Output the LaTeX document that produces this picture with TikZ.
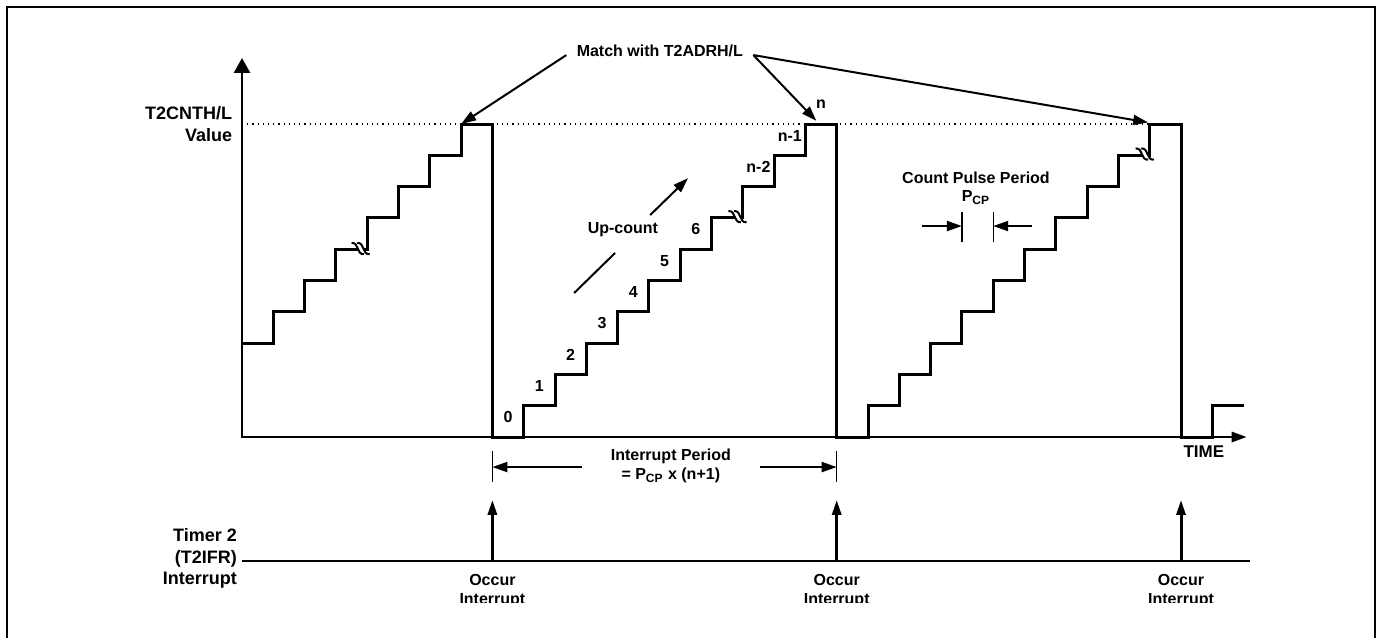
\documentclass[tikz,border=0pt]{standalone}
\usepackage{fontspec}
\setmainfont{Liberation Sans}
\usetikzlibrary{arrows.meta}
\tikzset{
  lbl/.style={font=\bfseries\fontsize{8}{9.3}\selectfont, inner sep=1pt, align=center},
  side/.style={font=\bfseries\fontsize{9}{10.8}\selectfont, align=right, anchor=east, inner sep=0pt},
  tip/.style={-{Triangle[length=7.5pt,width=5pt]}, line width=1pt},
  irqtip/.style={-{Triangle[length=7.5pt,width=4.5pt]}, line width=1.5pt},
  tick/.style={line width=0.7pt},
  wave/.style={line width=1.5pt, line join=miter},
  brk/.pic={
    \fill[white] (-0.3,0.18) .. controls (-0.05,0.2) and (-0.15,-0.2) .. (0.1,-0.18)
      -- (0.28,-0.18) .. controls (0.03,-0.2) and (0.13,0.2) .. (-0.12,0.18) -- cycle;
    \draw[line width=1pt] (-0.3,0.18) .. controls (-0.05,0.2) and (-0.15,-0.2) .. (0.1,-0.18);
    \draw[line width=1pt] (-0.12,0.18) .. controls (0.13,0.2) and (0.03,-0.2) .. (0.28,-0.18);
  }
}
\begin{document}
\begin{tikzpicture}[x=15.65pt, y=15.65pt]
\useasboundingbox (-7.732,-6.390) rectangle (36.454,13.962);
\draw[line width=1.3pt] (-7.51,-6.6) |- (36.2,13.74) -- (36.2,-6.6);
\coordinate (o) at (0,0);
\coordinate (ytip) at (0,12.11);
\coordinate (xtip) at (32.1,0);
\draw[dotted, line width=0.6pt] (0,10) -- (29,10);
\draw[line width=1.4pt, line join=miter, {Triangle[length=7.5pt,width=8pt]}-{Triangle[length=7.5pt,width=5pt]}] (ytip) -- (o) -- (xtip);
\draw[wave] (0,3) \foreach \k in {1,...,7} { -| (\k,\k+3) } -- (8,10) -- (8,0)
  \foreach \k in {1,...,10} { -| (8+\k,\k) } -- (19,10) -- (19,0)
  \foreach \k in {1,...,10} { -| (19+\k,\k) } -- (30,10) -- (30,0) -| (31,1) -- (32,1);
\pic at (3.8,6.02) {brk};
\pic at (15.84,7.04) {brk};
\pic at (28.85,9.04) {brk};
\node[side] (lblY) at (-0.3,10) {T2CNTH/L\\Value};
\foreach \k/\t in {0/0,1/1,2/2,3/3,4/4,5/5,6/6,8/n-2,9/n-1,10/n}
  \node[lbl] (cnt\k) at (8.5+\k,\k+0.63) {\t};
\node[lbl, inner sep=5pt] (match) at (13.35,12.33) {Match with T2ADRH/L};
\coordinate (hit1) at (7,10);
\coordinate (hit2) at (18.35,10.1);
\coordinate (hit3) at (28.95,10.05);
\draw[tip] ([yshift=-2pt]match.west) -- (hit1);
\draw[tip] ([yshift=-2pt]match.east) -- (hit2);
\draw[tip] ([yshift=-2pt]match.east) -- (hit3);
\node[lbl] (upcnt) at (12.17,6.61) {Up-count};
\coordinate (up0) at (10.61,4.6);
\coordinate (up1) at (11.92,5.88);
\coordinate (up2) at (13.04,7.09);
\coordinate (up3) at (14.25,8.27);
\draw[line width=1pt] (up0) -- (up1);
\draw[tip] (up2) -- (up3);
\node[lbl] (cpp) at (23.45,7.95) {Count Pulse Period\\P\textsubscript{CP}};
\coordinate (cpa) at (23,7.19);
\coordinate (cpb) at (23,6.23);
\coordinate (cpc) at (24,7.19);
\coordinate (cpd) at (24,6.23);
\coordinate (cpl) at (21.73,6.74);
\coordinate (cpm1) at (23,6.74);
\coordinate (cpm2) at (24,6.74);
\coordinate (cpr) at (25.24,6.74);
\draw[tick] (cpa) -- (cpb);
\draw[tick] (cpc) -- (cpd);
\draw[tip] (cpl) -- (cpm1);
\draw[tip] (cpr) -- (cpm2);
\node[lbl] (iper) at (13.7,-0.93) {Interrupt Period\\= P\textsubscript{CP} x (n+1)};
\coordinate (ipa) at (8,-0.45);
\coordinate (ipb) at (8,-1.44);
\coordinate (ipc) at (19,-0.45);
\coordinate (ipd) at (19,-1.44);
\coordinate (ipl) at (10.86,-0.96);
\coordinate (ipm1) at (8,-0.96);
\coordinate (ipm2) at (19,-0.96);
\coordinate (ipr) at (16.55,-0.96);
\draw[tick] (ipa) -- (ipb);
\draw[tick] (ipc) -- (ipd);
\draw[tip] (ipl) -- (ipm1);
\draw[tip] (ipr) -- (ipm2);
\node[lbl, font=\bfseries\fontsize{8.5}{10}\selectfont] (time) at (30.73,-0.48) {TIME};
\node[side] (lblT) at (-0.15,-3.88) {Timer 2\\(T2IFR)\\Interrupt};
\coordinate (t0) at (0,-3.96);
\coordinate (t1) at (32.2,-3.96);
\draw[line width=1pt] (t0) -- (t1);
\begin{scope}
\clip (-7,-5.30) rectangle (36,-2);
\foreach \x [count=\i] in {8,19,30}{
  \coordinate (irq\i) at (\x,-3.96);
  \coordinate (irqtop\i) at (\x,-2.01);
  \draw[irqtip] (irq\i) -- (irqtop\i);
  \node[lbl] (occ\i) at (\x,-4.92) {Occur\\Interrupt};
}
\end{scope}
\end{tikzpicture}
\end{document}
